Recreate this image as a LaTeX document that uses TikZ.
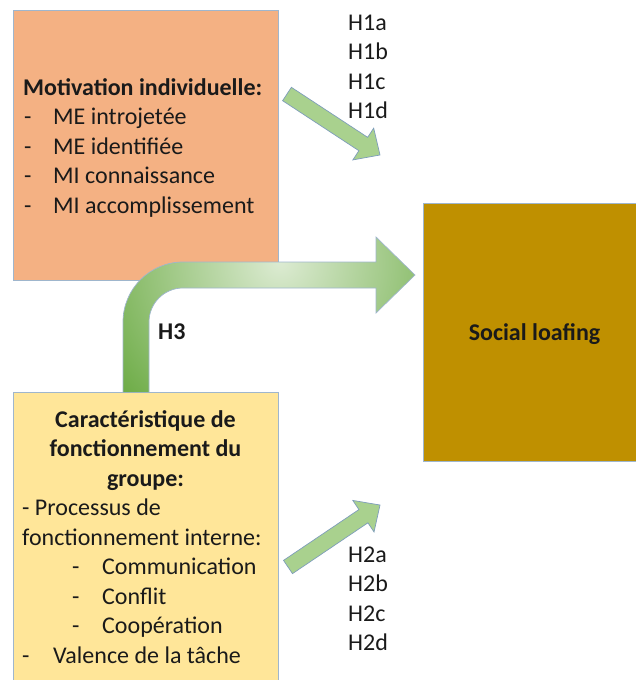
\documentclass[tikz,border=0pt]{standalone}
\usepackage{fontspec}
\setmainfont{Carlito}
\usetikzlibrary{calc}
\definecolor{orangebox}{HTML}{F4B183}
\definecolor{yellowbox}{HTML}{FFE699}
\definecolor{goldbox}{HTML}{BF9000}
\definecolor{edgeblue}{HTML}{9FB6CD}
\definecolor{arrowfill}{HTML}{A9D18E}
\definecolor{arrowedge}{HTML}{7E9DBB}
\definecolor{darkgreen}{HTML}{6AAA42}
\definecolor{lightgreen}{HTML}{DCEBD2}
\definecolor{txt}{HTML}{1A1A1A}
\tikzset{
  boxstyle/.style={draw=edgeblue, line width=0.8pt},
  txtline/.style={anchor=base west, inner sep=0pt, font=\fontsize{24}{29.5}\selectfont, text=txt},
  txtbold/.style={txtline, font=\fontsize{24}{29.5}\selectfont\bfseries},
  txtcenter/.style={anchor=base, inner sep=0pt, font=\fontsize{24}{29.5}\selectfont\bfseries, text=txt},
  smallarrow/.style={fill=arrowfill, draw=arrowedge, line width=0.7pt, line join=miter}
}
\newcommand{\hyparrow}[2]{%
  \draw[smallarrow]
    ($(#1)!8pt!90:(#2)$) --
    ($($(#2)!20pt!(#1)$)!8pt!-90:(#1)$) --
    ($($(#2)!20pt!(#1)$)!19pt!-90:(#1)$) --
    (#2) --
    ($($(#2)!20pt!(#1)$)!19pt!90:(#1)$) --
    ($($(#2)!20pt!(#1)$)!8pt!90:(#1)$) --
    ($(#1)!8pt!-90:(#2)$) -- cycle;}
\begin{document}
\begin{tikzpicture}[x=1pt,y=-1pt]
\useasboundingbox (0,0) rectangle (636,680);
\clip (0,0) rectangle (636,680);
% boxes
\draw[boxstyle, fill=orangebox] (13,10) rectangle (278,280);
\draw[boxstyle, fill=yellowbox] (13,392) rectangle (278,700);
\draw[boxstyle, fill=goldbox] (423,203) rectangle (648,461);
% curved arrow H3
\begin{scope}
  \clip (123,392) -- (123,322) arc[start angle=180, end angle=270, radius=60]
        -- (376,262) -- (376,237) -- (415,275) -- (376,313) -- (376,288)
        -- (183,288) arc[start angle=270, end angle=180, radius=34]
        -- (149,392) -- cycle;
  \shade[inner color=lightgreen, outer color=darkgreen] (280,262) circle[radius=210];
\end{scope}
\draw[draw=edgeblue, line width=0.7pt, line join=miter]
  (123,392) -- (123,322) arc[start angle=180, end angle=270, radius=60]
  -- (376,262) -- (376,237) -- (415,275) -- (376,313) -- (376,288)
  -- (183,288) arc[start angle=270, end angle=180, radius=34]
  -- (149,392);
% small arrows
\coordinate (t1) at (287,94);
\coordinate (p1) at (380,155);
\hyparrow{t1}{p1}
\coordinate (t2) at (288,567);
\coordinate (p2) at (380,505);
\hyparrow{t2}{p2}
% orange box text
\node[txtbold] (m0) at (23,95) {Motivation individuelle:};
\node[txtline] (m1d) at (24,124.5) {-};
\node[txtline] (m1) at (53,124.5) {ME introjetée};
\node[txtline] (m2d) at (24,154) {-};
\node[txtline] (m2) at (53,154) {ME identifiée};
\node[txtline] (m3d) at (24,183.5) {-};
\node[txtline] (m3) at (53,183.5) {MI connaissance};
\node[txtline] (m4d) at (24,213) {-};
\node[txtline] (m4) at (53,213) {MI accomplissement};
% yellow box text
\node[txtcenter] (c0) at (145.5,427) {Caractéristique de};
\node[txtcenter] (c1) at (145.5,456.5) {fonctionnement du};
\node[txtcenter] (c2) at (145.5,486) {groupe:};
\node[txtline] (c3) at (22,515.5) {- Processus de};
\node[txtline] (c4) at (22,545) {fonctionnement interne:};
\node[txtline] (c5d) at (72,574.5) {-};
\node[txtline] (c5) at (102,574.5) {Communication};
\node[txtline] (c6d) at (72,604) {-};
\node[txtline] (c6) at (102,604) {Conflit};
\node[txtline] (c7d) at (72,633.5) {-};
\node[txtline] (c7) at (102,633.5) {Coopération};
\node[txtline] (c8d) at (22,663) {-};
\node[txtline] (c8) at (53,663) {Valence de la tâche};
% social loafing
\node[txtcenter] (sl) at (534.5,340) {Social loafing};
% H labels
\node[txtbold] (h3) at (158,339) {H3};
\node[txtline] (h1a) at (348,30) {H1a};
\node[txtline] (h1b) at (348,59.5) {H1b};
\node[txtline] (h1c) at (348,89) {H1c};
\node[txtline] (h1d) at (348,118.5) {H1d};
\node[txtline] (h2a) at (348,562) {H2a};
\node[txtline] (h2b) at (348,591.5) {H2b};
\node[txtline] (h2c) at (348,621) {H2c};
\node[txtline] (h2d) at (348,650.5) {H2d};
\end{tikzpicture}
\end{document}
